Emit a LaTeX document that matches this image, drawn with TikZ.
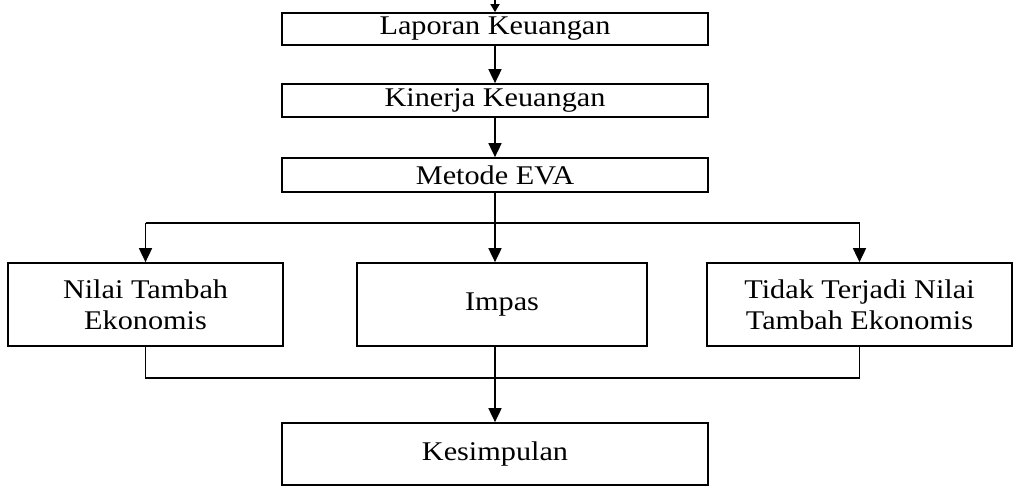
\documentclass[tikz,border=0pt]{standalone}
\usepackage{fontspec}
\setmainfont{Liberation Serif}[FakeStretch=1.12]
\usetikzlibrary{arrows.meta}
\begin{document}
\begin{tikzpicture}[x=1pt,y=-1pt,
  box/.style={draw, line width=1.7pt, inner sep=0pt, align=center, font=\fontsize{27}{31}\selectfont},
  arr/.style={-{Triangle[width=13pt,length=14pt]}, line width=1.7pt},
  smallarr/.style={-{Triangle[width=9pt,length=8pt]}, line width=1.7pt},
  ln/.style={line width=1.7pt}]
\useasboundingbox (0,0) rectangle (1017,495);
\node[box, minimum width=426pt, minimum height=32pt] (lap) at (495,29) {Laporan Keuangan};
\node[box, minimum width=426pt, minimum height=33pt] (kin) at (495,100.5) {Kinerja Keuangan};
\node[box, minimum width=426pt, minimum height=34pt] (eva) at (495,175) {Metode EVA};
\node[box, minimum width=275pt, minimum height=83pt] (nilai) at (145.5,304.5) {Nilai Tambah\\Ekonomis};
\node[box, minimum width=290pt, minimum height=83pt] (impas) at (502,304.5) {Impas};
\node[box, minimum width=305pt, minimum height=83pt] (tidak) at (859.5,304.5) {Tidak Terjadi Nilai\\Tambah Ekonomis};
\node[box, minimum width=426pt, minimum height=62pt] (kes) at (495,454) {Kesimpulan};
\coordinate (top) at (495,-20);
\coordinate (split) at (495,223);
\coordinate (merge) at (495,378);
\draw[smallarr] (top) -- (lap);
\draw[arr] (lap) -- (kin);
\draw[arr] (kin) -- (eva);
\draw[arr] (eva.south) -- (eva.south |- impas.north);
\draw[ln] (nilai.north |- split) -- (tidak.north |- split);
\draw[arr] (nilai.north |- split) -- (nilai.north);
\draw[arr] (tidak.north |- split) -- (tidak.north);
\draw[ln] (nilai.south) |- (merge);
\draw[ln] (tidak.south) |- (merge);
\draw[ln] (merge |- impas.south) -- (merge);
\draw[arr] (merge) -- (kes);
\end{tikzpicture}
\end{document}
